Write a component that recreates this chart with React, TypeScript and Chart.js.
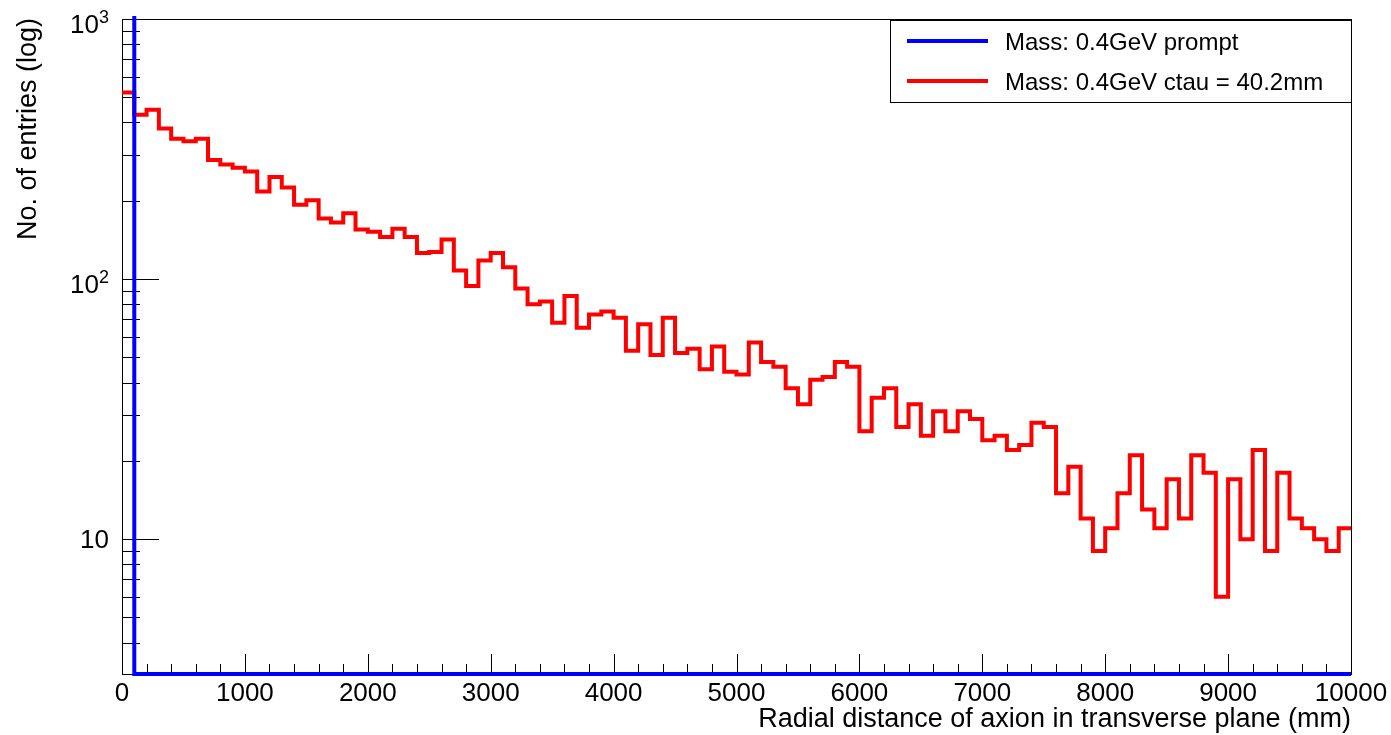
import React, { useEffect, useRef } from "react";
import { Chart, registerables } from "chart.js";

Chart.register(...registerables);

// ---- Data ----
const BIN_WIDTH = 100;
const X_MIN = 0;
const X_MAX = 10000;
const Y_MIN = 3.03;
const Y_MAX = 1000;

const promptLabel = "Mass: 0.4GeV prompt";
const ctauLabel = "Mass: 0.4GeV ctau = 40.2mm";

// prompt sample: all entries in the first bin (off scale)
const promptCounts = [
  12000, 0, 0, 0, 0, 0, 0, 0, 0, 0,
  0, 0, 0, 0, 0, 0, 0, 0, 0, 0,
  0, 0, 0, 0, 0, 0, 0, 0, 0, 0,
  0, 0, 0, 0, 0, 0, 0, 0, 0, 0,
  0, 0, 0, 0, 0, 0, 0, 0, 0, 0,
  0, 0, 0, 0, 0, 0, 0, 0, 0, 0,
  0, 0, 0, 0, 0, 0, 0, 0, 0, 0,
  0, 0, 0, 0, 0, 0, 0, 0, 0, 0,
  0, 0, 0, 0, 0, 0, 0, 0, 0, 0,
  0, 0, 0, 0, 0, 0, 0, 0, 0, 0,
];

const ctauCounts = [
  522, 428, 448, 379, 346, 339, 346, 287, 276, 268,
  259, 217, 247, 225, 193, 201, 171, 165, 179, 155,
  152, 145, 156, 145, 126, 127, 142, 108, 94, 118,
  126, 111, 92, 80, 82, 68, 86, 65, 73, 75,
  71, 53, 67, 51, 71, 52, 54, 45, 55, 44,
  43, 57, 48, 46, 38, 33, 41, 42, 48, 46,
  26, 35, 38, 27, 33, 25, 31, 26, 31, 29,
  24, 25, 22, 23, 28, 27, 15, 19, 12, 9,
  11, 15, 21, 13, 11, 17, 12, 21, 18, 6,
  17, 10, 22, 9, 18, 12, 11, 10, 9, 11,
];

const xTickLabels = [0, 1000, 2000, 3000, 4000, 5000, 6000, 7000, 8000, 9000, 10000];
const xMinorStep = 200;
const yMajorTicks = [10, 100, 1000];
const yMajorLabels = [
  { base: "10", exp: "" },
  { base: "10", exp: "2" },
  { base: "10", exp: "3" },
];

const xTitle = "Radial distance of axion in transverse plane (mm)";
const yTitle = "No. of entries (log)";

const FONT = '"Liberation Sans", Arial, Helvetica, sans-serif';

function toSteps(counts: number[]) {
  const pts = counts.map((v, i) => ({ x: X_MIN + i * BIN_WIDTH, y: v > 0 ? v : Y_MIN }));
  const last = counts[counts.length - 1];
  pts.push({ x: X_MIN + counts.length * BIN_WIDTH, y: last > 0 ? last : Y_MIN });
  return pts;
}

const rootPlugin = {
  id: "rootStyle",
  beforeDatasetsDraw(chart: any) {
    const { ctx, chartArea: a, scales } = chart;
    const xs = scales.x;
    const ys = scales.y;
    ctx.save();
    ctx.strokeStyle = "#000";
    ctx.lineWidth = 1;
    // frame
    ctx.strokeRect(Math.round(a.left) + 0.5, Math.round(a.top) + 0.5, Math.round(a.right - a.left), Math.round(a.bottom - a.top));
    ctx.beginPath();
    // x ticks
    for (let v = X_MIN; v <= X_MAX; v += xMinorStep) {
      const px = Math.round(xs.getPixelForValue(v)) + 0.5;
      const major = xTickLabels.includes(v);
      ctx.moveTo(px, a.bottom);
      ctx.lineTo(px, a.bottom - (major ? 20 : 10));
    }
    // y ticks
    for (let d = 1; d <= 100; d *= 10) {
      for (let k = 1; k <= 10; k++) {
        const v = k * d;
        if (v < Y_MIN || v > Y_MAX) continue;
        const py = Math.round(ys.getPixelForValue(v)) + 0.5;
        const major = yMajorTicks.includes(v);
        ctx.moveTo(a.left, py);
        ctx.lineTo(a.left + (major ? 37 : 18), py);
      }
    }
    ctx.stroke();
    ctx.restore();
  },
  afterDatasetsDraw(chart: any) {
    const { ctx, chartArea: a, scales } = chart;
    const xs = scales.x;
    const ys = scales.y;
    ctx.save();
    ctx.fillStyle = "#000";
    ctx.font = `26px ${FONT}`;
    ctx.textBaseline = "alphabetic";
    // x labels
    ctx.textAlign = "center";
    xTickLabels.forEach((v) => {
      ctx.fillText(String(v), xs.getPixelForValue(v), a.bottom + 27);
    });
    // y labels
    yMajorTicks.forEach((v, i) => {
      const py = ys.getPixelForValue(v);
      const lab = yMajorLabels[i];
      if (!lab.exp) {
        ctx.font = `26px ${FONT}`;
        ctx.textAlign = "right";
        ctx.fillText(lab.base, a.left - 13, py + 9);
      } else {
        ctx.font = `26px ${FONT}`;
        ctx.textAlign = "right";
        ctx.fillText(lab.base, a.left - 23, py + 14);
        ctx.font = `18px ${FONT}`;
        ctx.textAlign = "left";
        ctx.fillText(lab.exp, a.left - 23, py + 4);
      }
    });
    // axis titles
    ctx.font = `27px ${FONT}`;
    ctx.textAlign = "right";
    ctx.fillText(xTitle, a.right, a.bottom + 53);
    ctx.save();
    ctx.translate(36, a.top - 1);
    ctx.rotate(-Math.PI / 2);
    ctx.textAlign = "right";
    ctx.fillText(yTitle, 0, 0);
    ctx.restore();

    // legend
    const lx = 890, ly = 20, lw = 461, lh = 82;
    ctx.fillStyle = "#fff";
    ctx.fillRect(lx, ly, lw, lh);
    ctx.strokeStyle = "#000";
    ctx.lineWidth = 1;
    ctx.strokeRect(lx + 0.5, ly + 0.5, lw, lh);
    const ds = chart.data.datasets;
    const rows = [41, 81];
    ds.forEach((d: any, i: number) => {
      ctx.strokeStyle = d.borderColor;
      ctx.lineWidth = 4;
      ctx.beginPath();
      ctx.moveTo(907, rows[i]);
      ctx.lineTo(988, rows[i]);
      ctx.stroke();
      ctx.fillStyle = "#000";
      ctx.font = `24px ${FONT}`;
      ctx.textAlign = "left";
      ctx.fillText(d.label, 1005, rows[i] + 9);
    });
    ctx.restore();
  },
};

export default function App() {
  const ref = useRef<HTMLCanvasElement | null>(null);
  useEffect(() => {
    if (!ref.current) return;
    const chart = new Chart(ref.current, {
      type: "line",
      data: {
        datasets: [
          {
            label: promptLabel,
            data: toSteps(promptCounts),
            borderColor: "#0000ff",
            borderWidth: 4,
            stepped: "before",
            pointRadius: 0,
            fill: false,
            clip: 3,
          },
          {
            label: ctauLabel,
            data: toSteps(ctauCounts),
            borderColor: "#ff0000",
            borderWidth: 4,
            stepped: "before",
            pointRadius: 0,
            fill: false,
          },
        ],
      },
      options: {
        responsive: false,
        animation: false,
        layout: { padding: { left: 122, right: 40, top: 19, bottom: 61 } },
        scales: {
          x: { type: "linear", min: X_MIN, max: X_MAX, display: false },
          y: { type: "logarithmic", min: Y_MIN, max: Y_MAX, display: false },
        },
        plugins: { legend: { display: false }, tooltip: { enabled: false } },
        elements: { point: { radius: 0 }, line: { tension: 0 } },
      },
      plugins: [rootPlugin],
    } as any);
    return () => chart.destroy();
  }, []);
  return (
    <div style={{ position: "absolute", left: 0, top: 0, width: 1391, height: 735, background: "#fff" }}>
      <canvas ref={ref} width={1391} height={735} style={{ display: "block" }} />
    </div>
  );
}
